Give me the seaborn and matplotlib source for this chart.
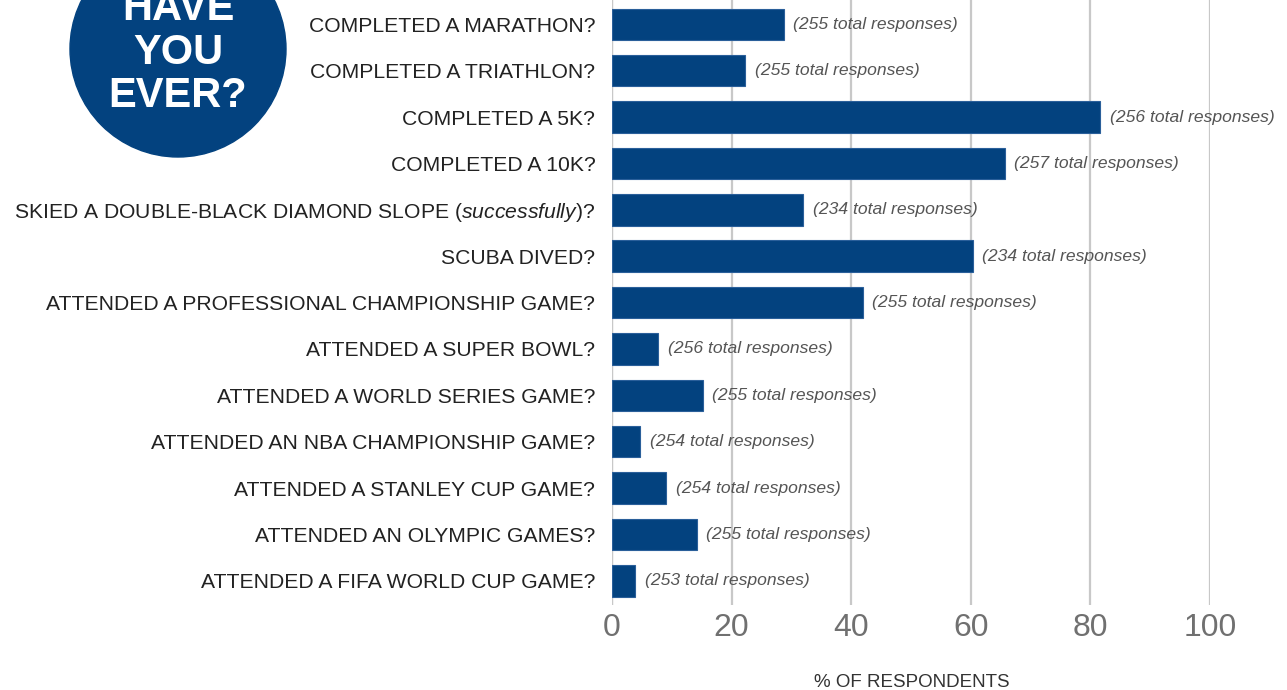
import matplotlib
matplotlib.use("Agg")
import matplotlib.pyplot as plt
import seaborn as sns
import pandas as pd
from matplotlib.patches import Circle

# data
questions = [
    "COMPLETED A MARATHON?",
    "COMPLETED A TRIATHLON?",
    "COMPLETED A 5K?",
    "COMPLETED A 10K?",
    "SKIED A DOUBLE-BLACK DIAMOND SLOPE ($\\mathit{successfully}$)?",
    "SCUBA DIVED?",
    "ATTENDED A PROFESSIONAL CHAMPIONSHIP GAME?",
    "ATTENDED A SUPER BOWL?",
    "ATTENDED A WORLD SERIES GAME?",
    "ATTENDED AN NBA CHAMPIONSHIP GAME?",
    "ATTENDED A STANLEY CUP GAME?",
    "ATTENDED AN OLYMPIC GAMES?",
    "ATTENDED A FIFA WORLD CUP GAME?",
]
pct_yes = [28.7, 22.3, 81.6, 65.7, 32.0, 60.3, 41.9, 7.7, 15.2, 4.7, 9.1, 14.2, 3.9]
responses = [255, 255, 256, 257, 234, 234, 255, 256, 255, 254, 254, 255, 253]
x_ticks = [0, 20, 40, 60, 80, 100]

df = pd.DataFrame({"question": questions, "pct": pct_yes, "n": responses})

BLUE = "#03427f"

sns.set_style("white")
plt.rcParams["font.family"] = ["Liberation Sans", "DejaVu Sans"]
plt.rcParams["mathtext.fontset"] = "custom"
plt.rcParams["mathtext.rm"] = "Liberation Sans"
plt.rcParams["mathtext.it"] = "Liberation Sans:italic"

fig = plt.figure(figsize=(12.87, 6.9), dpi=100)
ax = fig.add_axes([0.4755, 0.1232, 0.4647, 0.891])

sns.barplot(data=df, x="pct", y="question", color=BLUE, width=0.68,
            saturation=1, edgecolor="#2a5f9a", linewidth=0.8, ax=ax, zorder=3)

ax.set_xlim(0, 100)
ax.set_ylim(12.52, -0.735)
ax.set_xticks(x_ticks)
ax.xaxis.grid(True, color="#c8c8c8", linewidth=1.6, zorder=0)
ax.set_axisbelow(True)
for s in ax.spines.values():
    s.set_visible(False)
ax.axvline(0, color="#c8c8c8", linewidth=1.6, zorder=1)

ax.tick_params(axis="x", length=0, pad=6, labelsize=23, labelcolor="#707070")
ax.tick_params(axis="y", length=0, pad=12, labelsize=15.2, labelcolor="#222222")
ax.set_ylabel("")
ax.set_xlabel("")

# response counts next to bars
for i, (v, n) in enumerate(zip(df["pct"], df["n"])):
    ax.text(v + 1.6, i, f"({n} total responses)", va="center", ha="left",
            fontsize=12.6, style="italic", color="#555555", clip_on=False, zorder=4)

fig.text(0.7085, 0.004, "% OF RESPONDENTS", ha="center", va="baseline",
         fontsize=13.5, color="#333333")

# badge
fig.add_artist(Circle((1.78, 6.41), 1.08, transform=fig.dpi_scale_trans,
                      color=BLUE, zorder=0))
for txt, yb in [("HAVE", 6.70), ("YOU", 6.26), ("EVER?", 5.83)]:
    fig.text(1.78, yb, txt, transform=fig.dpi_scale_trans, ha="center",
             va="baseline", fontsize=30, fontweight="bold", color="white")

fig.savefig("out.png", dpi=100)
